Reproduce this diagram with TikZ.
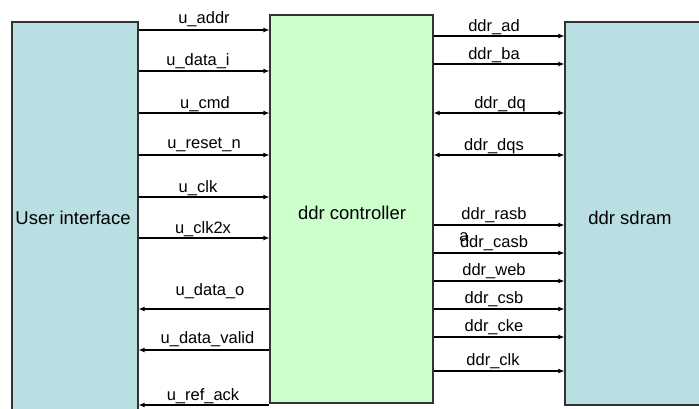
\documentclass[tikz,border=0pt]{standalone}
\usepackage{fontspec}
\setmainfont{Liberation Sans}
\usetikzlibrary{arrows.meta}
\definecolor{blockblue}{RGB}{185,223,227}
\definecolor{blockgreen}{RGB}{204,255,204}
\begin{document}
\begin{tikzpicture}[x=1pt,y=-1pt,
  blockbox/.style={draw=black!80, line width=1.1pt, inner sep=0pt},
  sig/.style={line width=1.5pt, -{Latex[length=6pt,width=5pt]}},
  sigback/.style={line width=1.5pt, {Latex[length=6pt,width=5pt]}-},
  sigboth/.style={line width=1.5pt, {Latex[length=6pt,width=5pt]}-{Latex[length=6pt,width=5pt]}},
  lbl/.style={anchor=base, inner sep=0pt, font=\fontsize{16.5}{19}\selectfont},
  title/.style={anchor=base, inner sep=0pt, font=\fontsize{18.5}{22}\selectfont}]
\useasboundingbox (0,0) rectangle (699,408);
\fill[white] (0,0) rectangle (699,408);

% the three blocks
\node[blockbox, fill=blockblue, minimum width=126pt, minimum height=392pt] (ui) at (75,218) {};
\node[blockbox, fill=blockgreen, minimum width=163pt, minimum height=388pt] (ctrl) at (351.5,209) {};
\node[blockbox, fill=blockblue, minimum width=150pt, minimum height=383pt] (sdram) at (640,213.5) {};

\node[title] (uit) at (73,224) {User interface};
\node[title] (ctrlt) at (352,219) {ddr controller};
\node[title] (sdramt) at (630,224) {ddr sdram};

% user side: inputs to the controller
\foreach \y/\t/\b/\c [count=\i] in {
  30/u\_addr/23/204, 71/u\_data\_i/65/198, 113/u\_cmd/108/205,
  155/u\_reset\_n/148/204, 197/u\_clk/192/198, 238/u\_clk2x/233/203} {
  \draw[sig] (ui.east |- 0,\y) -- (ctrl.west |- 0,\y);
  \node[lbl] (uin\i) at (\c,\b) {\t};
}
% user side: outputs of the controller
\foreach \y/\t/\b/\c [count=\i] in {
  309/u\_data\_o/295/210, 350/u\_data\_valid/343/207.5, 405/u\_ref\_ack/400/203} {
  \draw[sigback] (ui.east |- 0,\y) -- (ctrl.west |- 0,\y);
  \node[lbl] (uout\i) at (\c,\b) {\t};
}

% memory side
\foreach \y/\t/\b/\c [count=\i] in {
  36/ddr\_ad/31/494, 64/ddr\_ba/59/494,
  225/ddr\_rasb/219/494, 253/ddr\_casb/247/494, 281/ddr\_web/275/494,
  309/ddr\_csb/303/494, 337/ddr\_cke/331/494, 371/ddr\_clk/365/493} {
  \draw[sig] (ctrl.east |- 0,\y) -- (sdram.west |- 0,\y);
  \node[lbl] (dout\i) at (\c,\b) {\t};
}
\foreach \y/\t/\b/\c [count=\i] in {
  113/ddr\_dq/108/500, 155/ddr\_dqs/150/494} {
  \draw[sigboth] (ctrl.east |- 0,\y) -- (sdram.west |- 0,\y);
  \node[lbl] (dio\i) at (\c,\b) {\t};
}
\node[lbl] (stray) at (464,241) {a};
\end{tikzpicture}
\end{document}
